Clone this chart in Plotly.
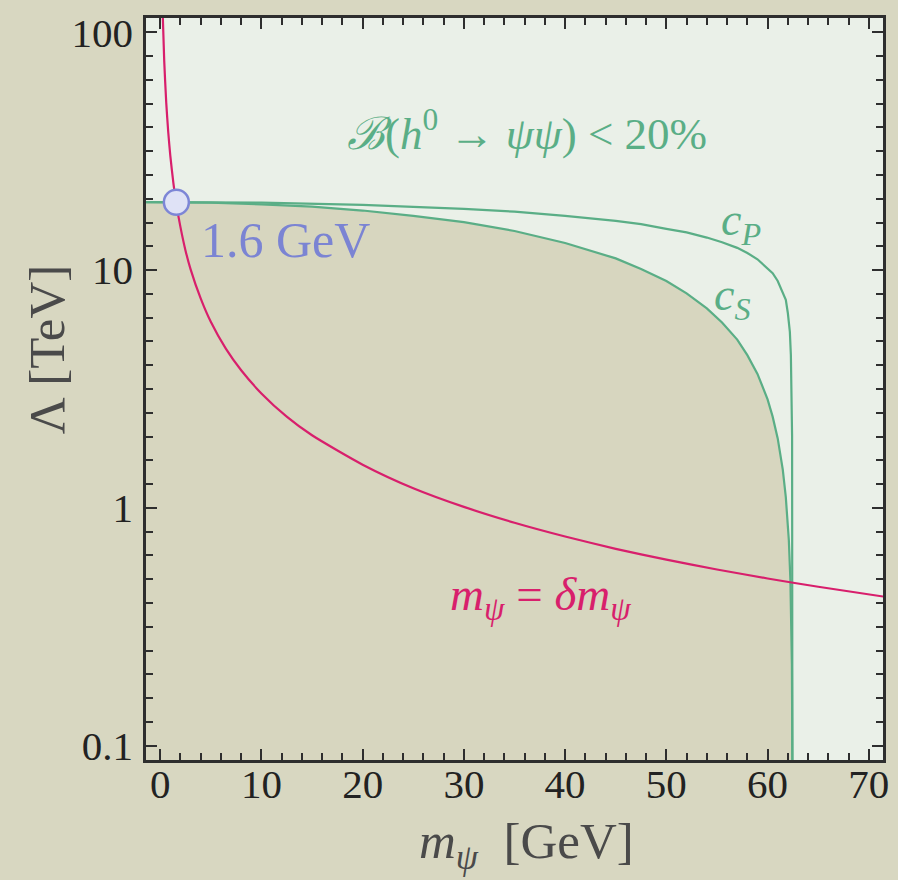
import math
import plotly.graph_objects as go

# ---- data ----
# m_psi = delta m_psi line  (m in GeV, Lambda in TeV)
m_red = [0.26, 0.4, 0.6, 0.8, 1.0, 1.3, 1.6, 2.0, 2.5, 3.0, 4.0, 5.0, 6.5, 8.0, 10, 12.5,
         15, 20, 25, 30, 35, 40, 45, 50, 55, 60, 65, 71.4]
lam_red = [116, 75.8, 50.5, 37.9, 30.3, 23.3, 18.9, 15.2, 12.1, 10.1, 7.6, 6.06, 4.66, 3.79,
           3.03, 2.42, 2.02, 1.52, 1.21, 1.01, 0.866, 0.758, 0.673, 0.606, 0.551, 0.505, 0.466, 0.424]

# c_S bound (lower green curve, edge of excluded region)
m_cs = [-1.4, 0, 5, 10, 15, 20, 25, 30, 35, 40, 42.5, 45, 47.5, 50, 52, 54, 55.5, 57, 58,
        59, 60, 60.5, 61, 61.5, 61.8, 62.0, 62.1, 62.25, 62.4, 62.45]
lam_cs = [19.3, 19.3, 19.2, 18.9, 18.5, 17.8, 16.9, 15.9, 14.6, 13.0, 12.1, 11.2, 10.1, 9.0,
          7.98, 6.9, 6.02, 5.1, 4.39, 3.66, 2.86, 2.42, 1.96, 1.45, 1.11, 0.88, 0.73, 0.5,
          0.22, 0.085]

# c_P bound (upper green curve)
m_cp = [-1.4, 0, 10, 20, 30, 35, 40, 45, 47.5, 50, 52, 54, 55.5, 57, 58, 59, 60, 60.5, 61,
        61.5, 61.8, 62.0, 62.1, 62.2, 62.3, 62.37, 62.42, 62.45]
lam_cp = [19.3, 19.3, 19.2, 18.8, 18.1, 17.6, 16.9, 16.1, 15.6, 14.9, 14.4, 13.7, 13.1, 12.4,
          11.8, 11.1, 10.2, 9.7, 9.0, 8.1, 7.5, 6.6, 6.1, 5.5, 4.4, 3.2, 2.0, 0.085]

# marked intersection
pt_m = [1.6]
pt_lam = [19.3]

# axes
x_range = [-1.4, 71.4]
y_range_log = [-1.06, 2.06]
x_ticks = [0, 10, 20, 30, 40, 50, 60, 70]
x_minor = [v for v in range(2, 71, 2) if v % 10 != 0]
y_ticks = [0.1, 1, 10, 100]
y_ticktext = ["0.1", "1", "10", "100"]
y_minor = [10 ** (k / 10) for k in range(-10, 21) if k % 10 != 0]

# ---- styles ----
PAPER = "#d8d7c1"
BEIGE = "#d7d6bf"
LIGHT = "#eaf0e8"
GREEN = "#5aae86"
RED = "#d81f6c"
LAV_LINE = "#7d86d6"
LAV_FILL = "#dfe2f6"
FRAME = "#2e2e2e"
SERIF = "Liberation Serif, Times New Roman, serif"

fig = go.Figure()

ymin_val = 10 ** (y_range_log[0] - 0.05)

# excluded (beige) region below the c_S curve
fig.add_trace(go.Scatter(
    x=m_cs + [m_cs[-1], m_cs[0]],
    y=lam_cs + [ymin_val, ymin_val],
    fill="toself", fillcolor=BEIGE, line=dict(width=0), mode="lines",
    hoverinfo="skip", showlegend=False))

fig.add_trace(go.Scatter(x=m_cp, y=lam_cp, mode="lines",
                         line=dict(color=GREEN, width=2.2), showlegend=False))
fig.add_trace(go.Scatter(x=m_cs, y=lam_cs, mode="lines",
                         line=dict(color=GREEN, width=2.2), showlegend=False))
fig.add_trace(go.Scatter(x=m_red, y=lam_red, mode="lines",
                         line=dict(color=RED, width=2.2, shape="spline", smoothing=0.6),
                         showlegend=False))
fig.add_trace(go.Scatter(x=pt_m, y=pt_lam, mode="markers",
                         marker=dict(size=25, color=LAV_FILL,
                                     line=dict(color=LAV_LINE, width=2.5)),
                         showlegend=False))

axis_common = dict(
    showgrid=False, zeroline=False, showline=True, linecolor=FRAME, linewidth=2.5,
    mirror="ticks", ticks="inside", tickcolor=FRAME, tickwidth=2, ticklen=11,
    tickfont=dict(family=SERIF, size=41, color="#222222"),
)

fig.update_xaxes(range=x_range, tickmode="array", tickvals=x_ticks,
                 minor=dict(tickmode="array", tickvals=x_minor, ticks="inside",
                            ticklen=7, tickwidth=2, tickcolor=FRAME),
                 ticklabelstandoff=-14, **axis_common)
fig.update_yaxes(type="log", range=y_range_log, tickmode="array", tickvals=y_ticks,
                 ticktext=y_ticktext,
                 minor=dict(tickmode="array", tickvals=y_minor, ticks="inside",
                            ticklen=7, tickwidth=2, tickcolor=FRAME),
                 ticklabelstandoff=2, **axis_common)

W, H = 898, 880
left, right, top, bottom = 145.7, 889.3, 18, 760

annotations = [
    dict(x=36.2, y=math.log10(38.5), xref="x", yref="y",
         text="<span style=\"font-family:'DejaVu Serif'\"><i>ℬ</i></span>(<i>h</i><sup>0</sup> → <i>ψψ</i>) &lt; 20%",
         font=dict(family=SERIF, size=45, color=GREEN), showarrow=False),
    dict(x=3.8, y=math.log10(13.4), xref="x", yref="y", xanchor="left",
         text="1.6 GeV", font=dict(family=SERIF, size=50, color="#7b84d3"),
         showarrow=False),
    dict(x=57.4, y=math.log10(15.8), xref="x", yref="y",
         text="<i>c</i><sub><i>P</i></sub>", font=dict(family=SERIF, size=46, color=GREEN),
         showarrow=False),
    dict(x=56.5, y=math.log10(7.6), xref="x", yref="y",
         text="<i>c</i><sub><i>S</i></sub>", font=dict(family=SERIF, size=46, color=GREEN),
         showarrow=False),
    dict(x=37.6, y=math.log10(0.42), xref="x", yref="y",
         text="<i>m</i><sub><i>ψ</i></sub> = <i>δm</i><sub><i>ψ</i></sub>",
         font=dict(family=SERIF, size=47, color=RED), showarrow=False),
    # axis titles
    dict(x=(530 - left) / (right - left), y=(bottom - 845) / (bottom - top),
         xref="paper", yref="paper", xanchor="center", yanchor="middle",
         text="<i>m</i><sub><i>ψ</i></sub>  [GeV]",
         font=dict(family=SERIF, size=51, color="#4a4a4a"), showarrow=False),
    dict(x=(46 - left) / (right - left), y=(bottom - 350) / (bottom - top),
         xref="paper", yref="paper", xanchor="center", yanchor="middle", textangle=-90,
         text="Λ [TeV]", font=dict(family=SERIF, size=51, color="#4a4a4a"),
         showarrow=False),
]

fig.update_layout(
    width=W, height=H,
    margin=dict(l=left, r=W - right, t=top, b=H - bottom, pad=0),
    paper_bgcolor=PAPER, plot_bgcolor=LIGHT,
    showlegend=False, annotations=annotations,
)

fig.write_html("out.html")
